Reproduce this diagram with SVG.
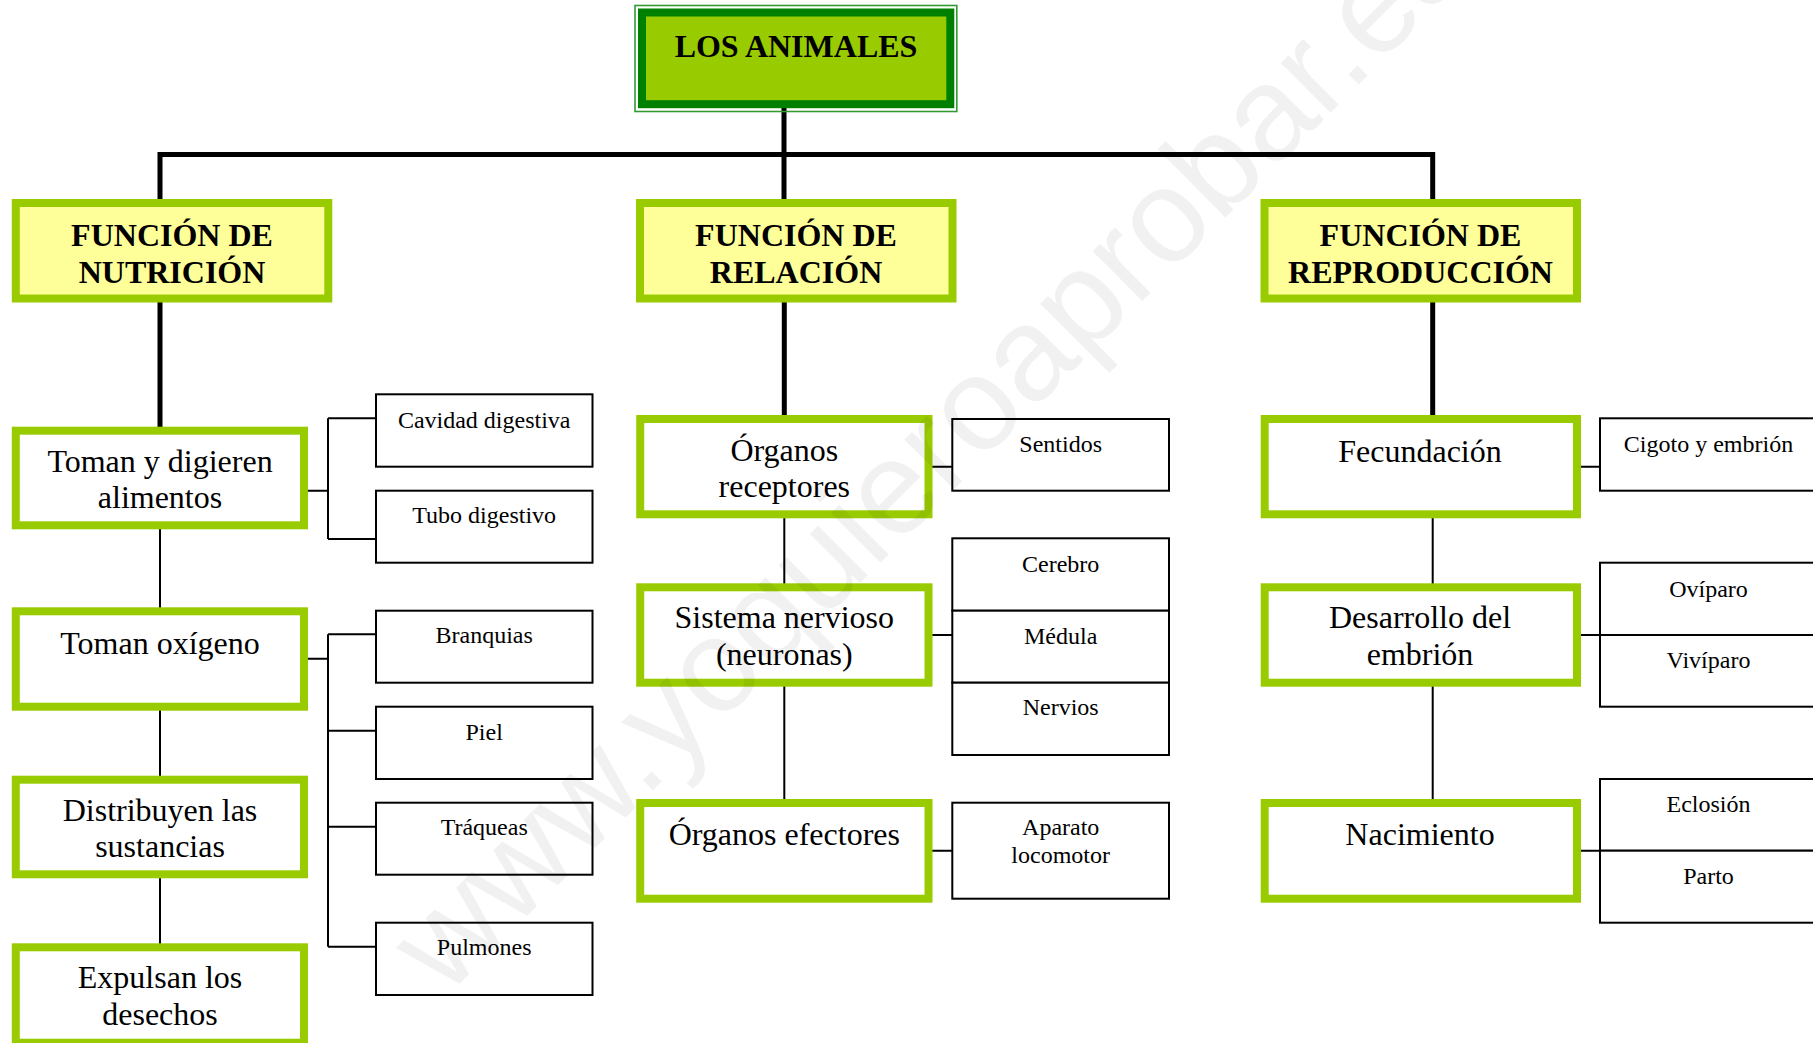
<svg xmlns="http://www.w3.org/2000/svg" width="1813" height="1043" viewBox="0 0 1813 1043">
<style>
.bg{fill:#ffffff}
.g2{fill:#ffff99;stroke:#99cc00;stroke-width:8}
.g3{fill:#ffffff;stroke:#99cc00;stroke-width:8}
.sb{fill:#ffffff;stroke:#000000;stroke-width:2}
.thick{fill:none;stroke:#000000;stroke-width:5;stroke-linejoin:miter;stroke-linecap:butt}
.thin{fill:none;stroke:#000000;stroke-width:2}
.t1{font-family:"Liberation Serif","Times New Roman",serif;font-weight:bold;font-size:32px;fill:#000;text-anchor:middle}
.t3{font-family:"Liberation Serif","Times New Roman",serif;font-size:32px;fill:#000;text-anchor:middle}
.ts{font-family:"Liberation Serif","Times New Roman",serif;font-size:24px;fill:#000;text-anchor:middle}
.wm{font-family:"Liberation Sans",Arial,sans-serif;font-size:133px;fill:#000;fill-opacity:0.055}
</style>
<rect class="bg" x="0" y="0" width="1813" height="1043"/>

<g id="connectors">
  <path class="thick" d="M784 108 V154.5"/>
  <path class="thick" d="M160 199 V154.5 H1432.7 V199"/>
  <path class="thick" d="M784 154.5 V199"/>
  <path class="thick" d="M160 302 V427"/>
  <path class="thick" d="M784.3 302 V415"/>
  <path class="thick" d="M1432.7 302 V415"/>
  <path class="thin" d="M160 529 V608 M160 710 V776 M160 878 V944"/>
  <path class="thin" d="M784.3 518 V584 M784.3 686 V800"/>
  <path class="thin" d="M1432.7 518 V584 M1432.7 686 V800"/>
  <path class="thin" d="M304 490.7 H328 M328 418.3 V539 M328 418.3 H376 M328 539 H376"/>
  <path class="thin" d="M304 658.7 H328 M328 634.3 V946.7 M328 634.3 H376 M328 730.7 H376 M328 826.7 H376 M328 946.7 H376"/>
  <path class="thin" d="M928 466.7 H952.3 M928 635 H952.3 M928 850.7 H952.3"/>
  <path class="thin" d="M1577 466.7 H1600 M1577 635 H1600 M1577 850.7 H1600"/>
</g>

<g id="los-animales">
  <rect x="635" y="5.5" width="321.8" height="106" fill="none" stroke="#339933" stroke-width="1.6"/>
  <rect x="642" y="12.5" width="308.3" height="91.7" fill="#99cc00" stroke="#008000" stroke-width="8"/>
  <text class="t1" x="796" y="57">LOS ANIMALES</text>
</g>

<g id="funcion-nutricion">
  <rect class="g2" x="15.8" y="203" width="312.5" height="95.5"/>
  <text class="t1" x="172" y="246">FUNCIÓN DE</text>
  <text class="t1" x="172" y="282.5">NUTRICIÓN</text>
</g>
<g id="funcion-relacion">
  <rect class="g2" x="640" y="203" width="312.5" height="95.5"/>
  <text class="t1" x="796" y="246">FUNCIÓN DE</text>
  <text class="t1" x="796" y="282.5">RELACIÓN</text>
</g>
<g id="funcion-reproduccion">
  <rect class="g2" x="1264.5" y="203" width="312.5" height="95.5"/>
  <text class="t1" x="1420.5" y="246">FUNCIÓN DE</text>
  <text class="t1" x="1420.5" y="282.5">REPRODUCCIÓN</text>
</g>

<g id="toman-digieren">
  <rect class="g3" x="15.8" y="430.7" width="288.2" height="94.6"/>
  <text class="t3" x="160" y="471.7">Toman y digieren</text>
  <text class="t3" x="160" y="508.3">alimentos</text>
</g>
<g id="toman-oxigeno">
  <rect class="g3" x="15.8" y="611.3" width="288.2" height="95.4"/>
  <text class="t3" x="160" y="654">Toman oxígeno</text>
</g>
<g id="distribuyen">
  <rect class="g3" x="15.8" y="779.7" width="288.2" height="94.6"/>
  <text class="t3" x="160" y="820.7">Distribuyen las</text>
  <text class="t3" x="160" y="857.3">sustancias</text>
</g>
<g id="expulsan">
  <rect class="g3" x="15.8" y="947.3" width="288.2" height="95.4"/>
  <text class="t3" x="160" y="988.3">Expulsan los</text>
  <text class="t3" x="160" y="1025">desechos</text>
</g>

<g id="organos-receptores">
  <rect class="g3" x="640.2" y="419" width="288.3" height="95.3"/>
  <text class="t3" x="784.3" y="461">Órganos</text>
  <text class="t3" x="784.3" y="497.3">receptores</text>
</g>
<g id="sistema-nervioso">
  <rect class="g3" x="640.2" y="587.3" width="288.3" height="95.4"/>
  <text class="t3" x="784.3" y="628.3">Sistema nervioso</text>
  <text class="t3" x="784.3" y="665">(neuronas)</text>
</g>
<g id="organos-efectores">
  <rect class="g3" x="640.2" y="803" width="288.3" height="95.7"/>
  <text class="t3" x="784.3" y="845">Órganos efectores</text>
</g>

<g id="fecundacion">
  <rect class="g3" x="1264.7" y="419" width="312.3" height="95.3"/>
  <text class="t3" x="1420" y="461.7">Fecundación</text>
</g>
<g id="desarrollo">
  <rect class="g3" x="1264.7" y="587.3" width="312.3" height="95.4"/>
  <text class="t3" x="1420" y="628.3">Desarrollo del</text>
  <text class="t3" x="1420" y="665">embrión</text>
</g>
<g id="nacimiento">
  <rect class="g3" x="1264.7" y="803" width="312.3" height="95.7"/>
  <text class="t3" x="1420" y="845">Nacimiento</text>
</g>

<g id="cavidad-digestiva">
  <rect class="sb" x="376" y="394.3" width="216.5" height="72.4"/>
  <text class="ts" x="484.2" y="428.3">Cavidad digestiva</text>
</g>
<g id="tubo-digestivo">
  <rect class="sb" x="376" y="490.7" width="216.5" height="72"/>
  <text class="ts" x="484.2" y="523.3">Tubo digestivo</text>
</g>
<g id="branquias">
  <rect class="sb" x="376" y="610.7" width="216.5" height="72"/>
  <text class="ts" x="484.2" y="643.3">Branquias</text>
</g>
<g id="piel">
  <rect class="sb" x="376" y="706.7" width="216.5" height="72.3"/>
  <text class="ts" x="484.2" y="740">Piel</text>
</g>
<g id="traqueas">
  <rect class="sb" x="376" y="802.7" width="216.5" height="72"/>
  <text class="ts" x="484.2" y="835">Tráqueas</text>
</g>
<g id="pulmones">
  <rect class="sb" x="376" y="922.7" width="216.5" height="72.3"/>
  <text class="ts" x="484.2" y="955">Pulmones</text>
</g>

<g id="sentidos">
  <rect class="sb" x="952.3" y="419" width="216.7" height="71.7"/>
  <text class="ts" x="1060.7" y="451.7">Sentidos</text>
</g>
<g id="cerebro">
  <rect class="sb" x="952.3" y="538.3" width="216.7" height="72.4"/>
  <text class="ts" x="1060.7" y="571.7">Cerebro</text>
</g>
<g id="medula">
  <rect class="sb" x="952.3" y="610.7" width="216.7" height="72"/>
  <text class="ts" x="1060.7" y="644">Médula</text>
</g>
<g id="nervios">
  <rect class="sb" x="952.3" y="682.7" width="216.7" height="72.3"/>
  <text class="ts" x="1060.7" y="715">Nervios</text>
</g>
<g id="aparato-locomotor">
  <rect class="sb" x="952.3" y="802.7" width="216.7" height="96"/>
  <text class="ts" x="1060.7" y="835">Aparato</text>
  <text class="ts" x="1060.7" y="863.3">locomotor</text>
</g>

<g id="cigoto">
  <rect class="sb" x="1600" y="418.3" width="217" height="72.4"/>
  <text class="ts" x="1708.5" y="451.7">Cigoto y embrión</text>
</g>
<g id="oviparo">
  <rect class="sb" x="1600" y="562.7" width="217" height="72.3"/>
  <text class="ts" x="1708.5" y="596.7">Ovíparo</text>
</g>
<g id="viviparo">
  <rect class="sb" x="1600" y="635" width="217" height="71.7"/>
  <text class="ts" x="1708.5" y="667.7">Vivíparo</text>
</g>
<g id="eclosion">
  <rect class="sb" x="1600" y="779" width="217" height="71.7"/>
  <text class="ts" x="1708.5" y="812.3">Eclosión</text>
</g>
<g id="parto">
  <rect class="sb" x="1600" y="850.7" width="217" height="72"/>
  <text class="ts" x="1708.5" y="884.3">Parto</text>
</g>

<text class="wm" transform="translate(445.7,997.5) rotate(-45)">www.yoquieroaprobar.es</text>
</svg>
